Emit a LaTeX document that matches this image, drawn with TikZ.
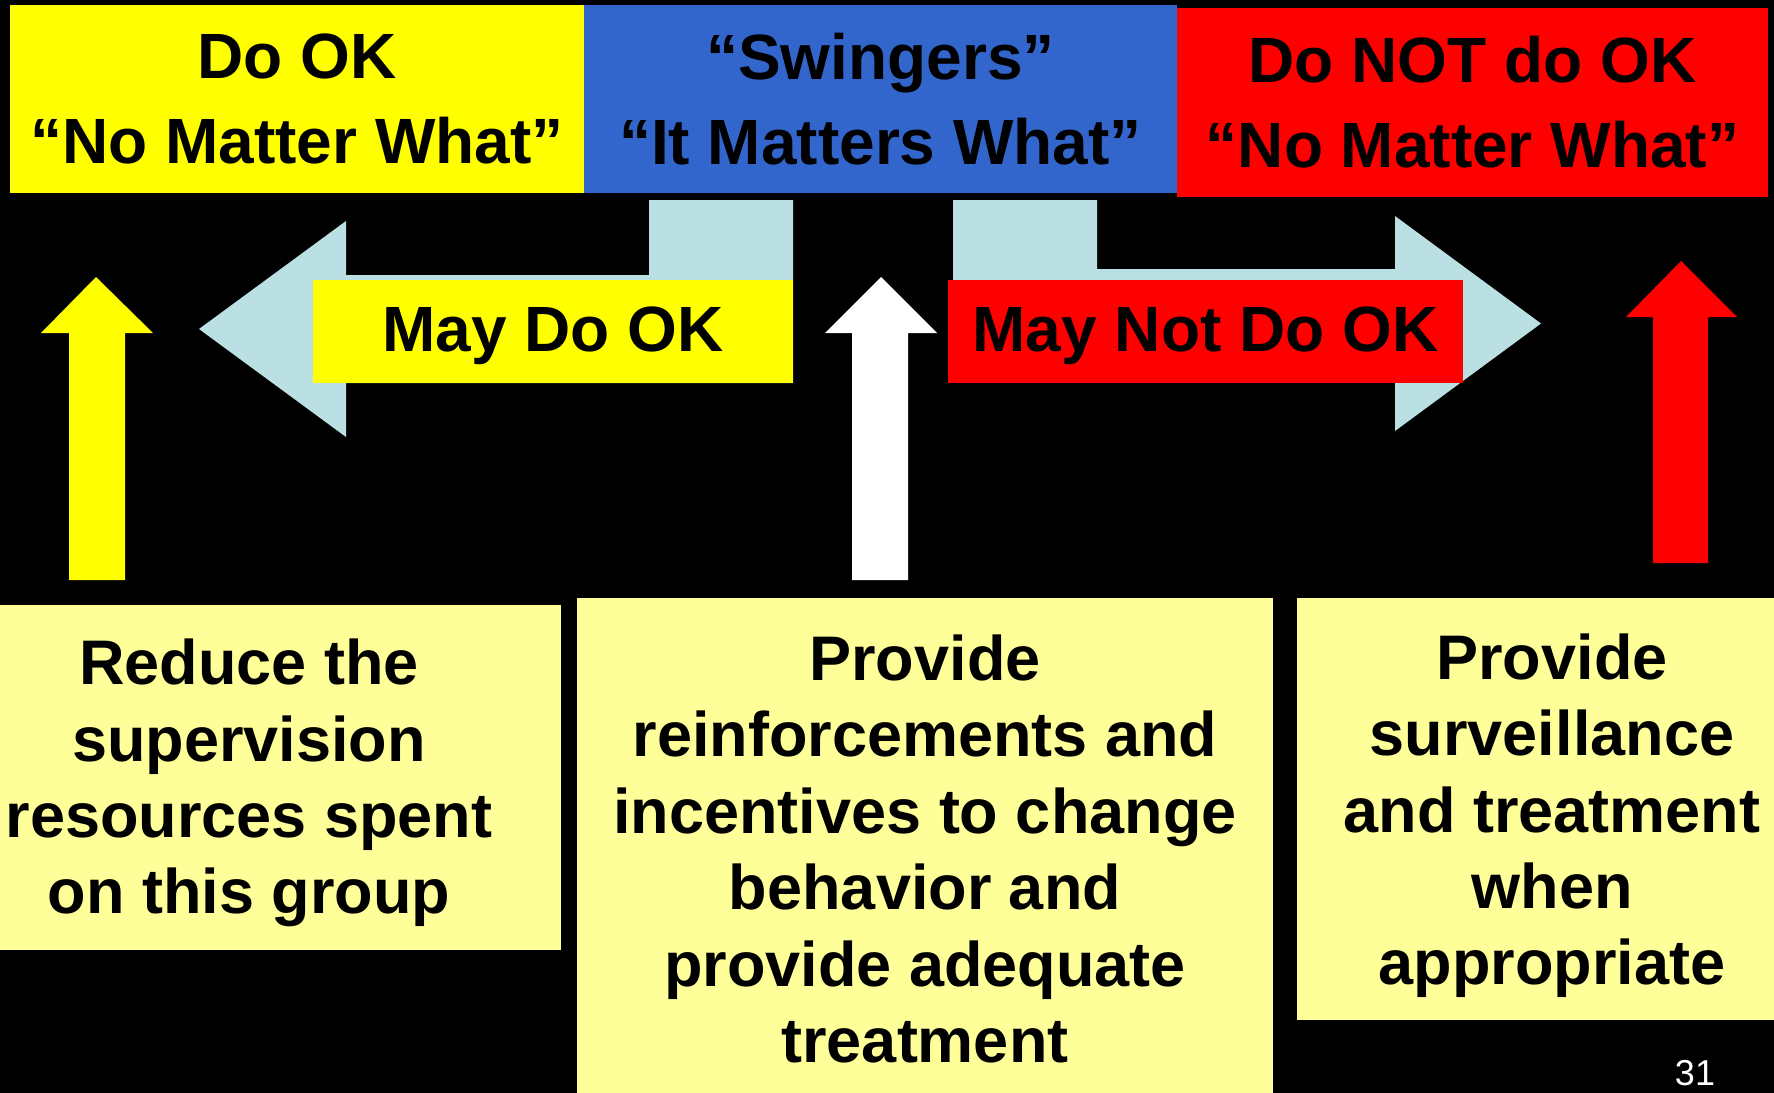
\documentclass[tikz,border=0pt]{standalone}
\usepackage{fontspec}
\setmainfont{Liberation Sans}
\definecolor{okyellow}{HTML}{FFFF00}
\definecolor{swingblue}{HTML}{3366CC}
\definecolor{notred}{HTML}{FF0000}
\definecolor{arrowblue}{HTML}{BBE0E3}
\definecolor{paleyellow}{HTML}{FFFF99}

\begin{document}
\begin{tikzpicture}[x=0.5pt,y=0.5pt]
\tikzstyle{every node}+=[inner sep=0pt]
\tikzstyle{head}=[align=center, minimum height=94pt, font=\bfseries\fontsize{32}{42.5}\selectfont]
\tikzstyle{tag}=[minimum height=51.5pt, font=\bfseries\fontsize{32}{38}\selectfont]
\tikzstyle{notebox}=[fill=paleyellow]
\tikzstyle{notetext}=[align=center, font=\bfseries\fontsize{31.5}{38.2}\selectfont]
\fill [black] (0,0) rectangle (1774,-1093);
\useasboundingbox (0,0) rectangle (1774,-1093);
% swing arrows
\fill [arrowblue] (649,-200) -- (793,-200) -- (793,-383) -- (346,-383) -- (346,-437) -- (199,-329) -- (346,-221) -- (346,-275) -- (649,-275) -- cycle;
\fill [arrowblue] (953,-200) -- (1097,-200) -- (1097,-269) -- (1395,-269) -- (1395,-216) -- (1541,-323.5) -- (1395,-431) -- (1395,-378) -- (953,-378) -- cycle;
% up arrows
\fill [okyellow] (69,-580) -- (69,-333) -- (41,-333) -- (96,-277) -- (153,-333) -- (125,-333) -- (125,-580) -- cycle;
\fill [white] (852,-580) -- (852,-333) -- (825,-333) -- (881,-277) -- (937,-333) -- (908,-333) -- (908,-580) -- cycle;
\fill [notred] (1653,-563) -- (1653,-317) -- (1626,-317) -- (1681,-261) -- (1737,-317) -- (1708,-317) -- (1708,-563) -- cycle;
% column heads
\node [head, fill=okyellow, minimum width=287pt] (dook) at (297,-99) {Do OK\\“No Matter What”};
\node [head, fill=swingblue, minimum width=296.5pt] (swing) at (880.5,-99) {“Swingers”\\“It Matters What”};
\node [head, fill=notred, minimum width=295.5pt, minimum height=94.5pt] (donot) at (1472.5,-102.5) {Do NOT do OK\\“No Matter What”};
% arrow tags
\node [tag, fill=okyellow, minimum width=240pt] (maydo) at (553,-331.5) {};
\node [tag] at ([yshift=-2.2pt]maydo.center) {May Do OK};
\node [tag, fill=notred, minimum width=257.5pt] (maynot) at (1205.5,-331.5) {};
\node [tag] at ([yshift=-2.2pt]maynot.center) {May Not Do OK};
% actions
\node [notebox, minimum width=312pt, minimum height=172.5pt] (reduce) at (249,-777.5) {};
\node [notetext] at ([yshift=-2.8pt]reduce.center) {Reduce the\\supervision\\resources spent\\on this group};
\node [notebox, minimum width=348pt, minimum height=251pt] (reinforce) at (925,-849) {};
\node [notetext] at (reinforce.center) {Provide\\reinforcements and\\incentives to change\\behavior and\\provide adequate\\treatment};
\node [notebox, minimum width=255pt, minimum height=211pt] (watch) at (1552,-809) {};
\node [notetext] at ([yshift=-3.4pt]watch.center) {Provide\\surveillance\\and treatment\\when\\appropriate};
\node [white, font=\fontsize{18}{20}\selectfont] (page) at (1695,-1073) {31};
\end{tikzpicture}
\end{document}
